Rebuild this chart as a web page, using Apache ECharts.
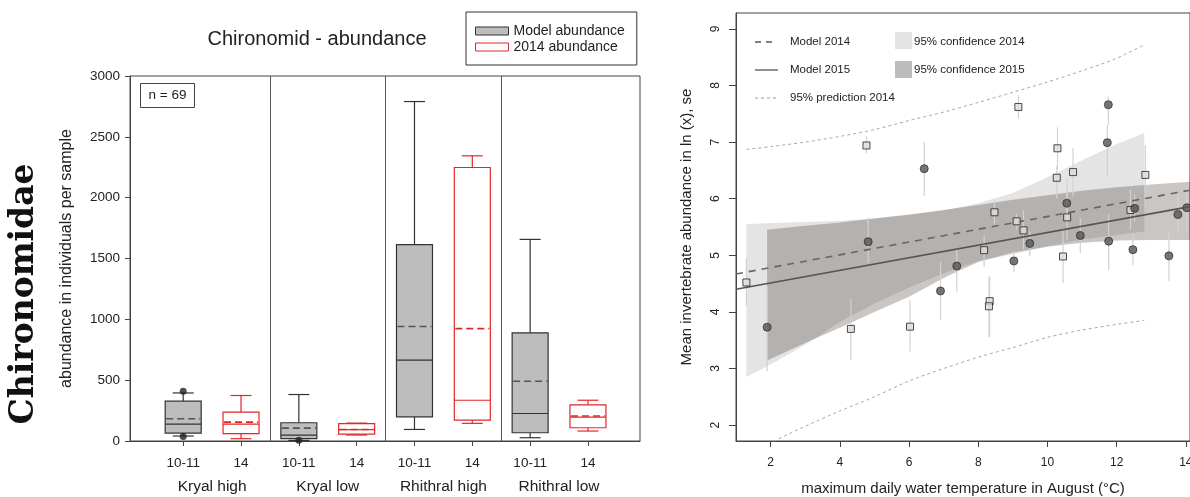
<!DOCTYPE html>
<html><head><meta charset="utf-8">
<script src="https://cdn.jsdelivr.net/npm/echarts@6/dist/echarts.min.js"></script>
<style>html,body{margin:0;padding:0;background:#fff}#c{width:1190px;height:497px}</style>
</head><body><div id="c"></div>
<script>
// ---------- Left chart data ----------
const groupLabels = ['Kryal high', 'Kryal low', 'Rhithral high', 'Rhithral low'];
const groupPositions = [0.5, 2.5, 4.5, 6.5];
const yearLabels = ['10-11', '14', '10-11', '14', '10-11', '14', '10-11', '14'];
const boxPositions = [0, 1, 2, 3, 4, 5, 6, 7];
const modelPositions = [0, 2, 4, 6];
const obsPositions = [1, 3, 5, 7];
// [whiskerLow, q1, median, mean, q3, whiskerHigh]
const modelBoxes = [
  [41, 65, 139, 183, 327, 395],
  [5, 19, 49, 106, 150, 382],
  [95, 199, 665, 941, 1614, 2790],
  [27, 68, 226, 491, 889, 1657]
];
const obsBoxes = [
  [19, 60, 139, 155, 237, 374],
  [49, 57, 93, 95, 142, 147],
  [145, 172, 335, 924, 2248, 2344],
  [82, 109, 196, 205, 297, 335]
];
const modelOutliers = [[0, 409], [0, 38], [2, 6]];
const leftSeparators = [1.5, 3.5, 5.5];

// ---------- Right chart data ----------
const xTicksRight = [2, 4, 6, 8, 10, 12, 14];
const yTicksRight = [2, 3, 4, 5, 6, 7, 8, 9];
// [x, y, errLow, errHigh]
const points2014 = [
  [1.3, 4.52, 4.12, 4.95], [4.77, 6.94, 6.8, 7.1], [4.32, 3.70, 3.15, 4.24],
  [6.03, 3.74, 3.3, 4.21], [8.17, 5.09, 4.8, 5.36], [8.33, 4.19, 3.56, 4.62],
  [8.31, 4.10, 3.56, 4.62], [8.47, 5.76, 5.55, 5.99], [9.11, 5.60, 5.45, 5.74],
  [9.31, 5.44, 5.1, 5.8], [9.16, 7.62, 7.42, 7.83], [10.29, 6.89, 6.51, 7.26],
  [10.27, 6.37, 6.0, 6.57], [10.74, 6.47, 6.04, 6.89], [10.57, 5.67, 5.27, 6.36],
  [10.45, 4.98, 4.51, 5.45], [12.4, 5.80, 5.45, 6.16], [12.83, 6.42, 5.86, 6.95]
];
const points2015 = [
  [1.9, 3.73, 2.95, 4.45], [4.82, 5.24, 4.86, 5.67], [6.44, 6.53, 6.05, 7.0],
  [6.91, 4.37, 3.86, 4.89], [7.38, 4.81, 4.36, 5.1], [9.03, 4.90, 4.71, 5.07],
  [9.49, 5.21, 4.98, 5.42], [10.56, 5.92, 5.6, 6.15], [10.95, 5.35, 5.04, 5.66],
  [11.77, 5.25, 4.74, 5.74], [11.73, 6.99, 6.39, 7.3], [11.76, 7.66, 7.3, 7.8],
  [12.47, 5.10, 4.83, 5.36], [12.52, 5.83, 5.6, 6.07], [13.51, 4.99, 4.54, 5.42],
  [13.77, 5.72, 5.39, 6.07], [14.03, 5.84, 5.42, 6.24]
];
const model2014 = [[1, 4.67], [14.12, 6.15]];
const model2015 = [[1, 4.40], [14.12, 5.86]];
const conf2014X = [1.3, 2, 3, 4, 5, 6, 7, 8, 9, 10, 11, 12, 12.8];
const conf2014Upper = [5.55, 5.57, 5.59, 5.61, 5.65, 5.71, 5.79, 5.92, 6.1, 6.38, 6.68, 6.96, 7.16];
const conf2014Lower = [2.85, 3.07, 3.42, 3.82, 4.15, 4.43, 4.68, 4.9, 5.02, 5.16, 5.28, 5.36, 5.42];
const conf2015X = [1.9, 3, 4, 5, 6, 7, 8, 9, 10, 11, 12, 13, 14.12];
const conf2015Upper = [5.45, 5.52, 5.58, 5.65, 5.72, 5.8, 5.89, 5.98, 6.06, 6.14, 6.2, 6.25, 6.3];
const conf2015Lower = [3.14, 3.45, 3.72, 4.0, 4.27, 4.6, 4.88, 5.05, 5.15, 5.22, 5.26, 5.27, 5.27];
const predX = [1.3, 2, 3, 4, 5, 6, 7, 8, 9, 10, 11, 12, 12.8];
const predUpper = [6.87, 6.92, 7.0, 7.1, 7.22, 7.38, 7.53, 7.7, 7.88, 8.06, 8.26, 8.48, 8.72];
const predLower = [1.48, 1.69, 1.98, 2.25, 2.5, 2.78, 3.0, 3.2, 3.37, 3.55, 3.68, 3.78, 3.85];

// ---------- Build ----------
const FONT = 'Liberation Sans, Arial, sans-serif';
const RED = '#e3262a';

function boxSeries(name, boxes, positions, stroke, fill, meanColor) {
  return {
    type: 'custom', name: name, xAxisIndex: 0, yAxisIndex: 0,
    itemStyle: { color: fill, borderColor: stroke },
    data: boxes.map((b, i) => [positions[i]].concat(b)),
    encode: { x: 0, y: [1, 2, 3, 4, 5, 6] },
    renderItem: function (params, api) {
      const x = api.value(0);
      const py = v => api.coord([x, v])[1];
      const cx = api.coord([x, 0])[0];
      const yl = py(api.value(1)), q1 = py(api.value(2)), md = py(api.value(3)),
            mn = py(api.value(4)), q3 = py(api.value(5)), yh = py(api.value(6));
      const hw = 18, cw = 10.5;
      const ls = { stroke: stroke, lineWidth: 1.2, fill: null };
      return { type: 'group', children: [
        { type: 'line', shape: { x1: cx, y1: q3, x2: cx, y2: yh }, style: ls },
        { type: 'line', shape: { x1: cx - cw, y1: yh, x2: cx + cw, y2: yh }, style: ls },
        { type: 'line', shape: { x1: cx, y1: q1, x2: cx, y2: yl }, style: ls },
        { type: 'line', shape: { x1: cx - cw, y1: yl, x2: cx + cw, y2: yl }, style: ls },
        { type: 'rect', shape: { x: cx - hw, y: q3, width: 2 * hw, height: q1 - q3 }, style: { fill: fill, stroke: stroke, lineWidth: 1.2 } },
        { type: 'line', shape: { x1: cx - hw, y1: md, x2: cx + hw, y2: md }, style: ls },
        { type: 'line', shape: { x1: cx - hw + 1, y1: mn, x2: cx + hw - 1, y2: mn }, style: { stroke: meanColor, lineWidth: 1.6, lineDash: [7, 4] } }
      ]};
    }
  };
}

function bandSeries(name, xs, lo, hi, fill, z) {
  return {
    type: 'custom', name: name, xAxisIndex: 1, yAxisIndex: 1, z: z, silent: true,
    data: [[xs[0], lo[0]]],
    renderItem: function (params, api) {
      const pts = [];
      for (let i = 0; i < xs.length; i++) pts.push(api.coord([xs[i], hi[i]]));
      for (let i = xs.length - 1; i >= 0; i--) pts.push(api.coord([xs[i], lo[i]]));
      return { type: 'polygon', shape: { points: pts }, style: { fill: fill } };
    }
  };
}

function errSeries(name, pts) {
  return {
    type: 'custom', name: name, xAxisIndex: 1, yAxisIndex: 1, z: 4, silent: true,
    data: pts.map(p => [p[0], p[2], p[3]]),
    renderItem: function (params, api) {
      const a = api.coord([api.value(0), api.value(1)]);
      const b = api.coord([api.value(0), api.value(2)]);
      return { type: 'line', shape: { x1: a[0], y1: a[1], x2: b[0], y2: b[1] }, style: { stroke: '#d2d2d2', lineWidth: 1.2 } };
    }
  };
}

const option = {
  animation: false,
  backgroundColor: '#fff',
  textStyle: { fontFamily: FONT },
  title: {
    text: 'Chironomid - abundance', left: 312, top: 24, textAlign: 'center',
    textStyle: { fontFamily: FONT, fontSize: 20, fontWeight: 'normal', color: '#222' }
  },
  legend: {
    left: 466, top: 12, orient: 'vertical', itemGap: 0,
    itemWidth: 33, itemHeight: 8,
    padding: [11, 12, 10, 9],
    borderColor: '#333', borderWidth: 1,
    textStyle: { fontFamily: FONT, fontSize: 14, color: '#222', lineHeight: 16 },
    data: [
      { name: 'Model abundance', icon: 'rect', itemStyle: { color: '#bdbdbd', borderColor: '#333', borderWidth: 1 } },
      { name: '2014 abundance', icon: 'rect', itemStyle: { color: '#fff', borderColor: RED, borderWidth: 1 } }
    ]
  },
  grid: [
    { left: 130, top: 76, width: 510, height: 365, show: true, borderColor: '#444', borderWidth: 1, outerBoundsMode: 'none', containLabel: false },
    { left: 736, top: 13, width: 454, height: 428, show: true, borderColor: '#444', borderWidth: 1, outerBoundsMode: 'none', containLabel: false }
  ],
  xAxis: [
    { type: 'value', gridIndex: 0, min: -0.92, max: 7.9,
      axisLine: { show: true, onZero: false, lineStyle: { color: '#444' } },
      axisTick: { show: true, customValues: boxPositions, length: 5, lineStyle: { color: '#444' } },
      axisLabel: { customValues: boxPositions, formatter: v => yearLabels[Math.round(v)], fontSize: 13.5, color: '#222', margin: 15, fontFamily: FONT },
      splitLine: { show: false } },
    { type: 'value', gridIndex: 1, min: 1, max: 14.12,
      axisLine: { show: true, onZero: false, lineStyle: { color: '#444' } },
      axisTick: { show: true, customValues: xTicksRight, length: 6, lineStyle: { color: '#444' } },
      axisLabel: { customValues: xTicksRight, fontSize: 12, color: '#222', margin: 16, fontFamily: FONT },
      splitLine: { show: false },
      name: 'maximum daily water temperature in August (°C)', nameLocation: 'middle', nameGap: 40,
      nameTextStyle: { fontSize: 15, color: '#222', fontFamily: FONT } },
    { type: 'value', gridIndex: 0, min: -0.92, max: 7.9, position: 'bottom', offset: 23,
      axisLine: { show: false, onZero: false }, axisTick: { show: false }, splitLine: { show: false },
      axisLabel: { customValues: groupPositions, formatter: v => groupLabels[Math.round((v - 0.5) / 2)], fontSize: 15.5, color: '#222', margin: 15, fontFamily: FONT } }
  ],
  yAxis: [
    { type: 'value', gridIndex: 0, min: 0, max: 3000, interval: 500,
      axisLine: { show: true, onZero: false, lineStyle: { color: '#444' } },
      axisTick: { show: true, length: 5, lineStyle: { color: '#444' } },
      axisLabel: { fontSize: 13.5, color: '#222', margin: 10, fontFamily: FONT, formatter: v => String(v) },
      splitLine: { show: false },
      name: 'abundance in individuals per sample', nameLocation: 'middle', nameGap: 55, nameRotate: 90,
      nameTextStyle: { fontSize: 16, color: '#222', fontFamily: FONT } },
    { type: 'value', gridIndex: 1, min: 1.72, max: 9.28,
      axisLine: { show: true, onZero: false, lineStyle: { color: '#444' } },
      axisTick: { show: true, customValues: yTicksRight, length: 7, lineStyle: { color: '#444' } },
      axisLabel: { customValues: yTicksRight, rotate: 90, fontSize: 12, color: '#222', margin: 14, fontFamily: FONT },
      splitLine: { show: false },
      name: 'Mean invertebrate abundance in ln (x), se', nameLocation: 'middle', nameGap: 42, nameRotate: 90,
      nameTextStyle: { fontSize: 15, color: '#222', fontFamily: FONT } }
  ],
  series: [
    Object.assign(boxSeries('Model abundance', modelBoxes, modelPositions, '#333', '#bdbdbd', '#555'), {
      markLine: { silent: true, symbol: 'none', label: { show: false },
        lineStyle: { color: '#555', type: 'solid', width: 1 },
        data: leftSeparators.map(v => ({ xAxis: v })) }
    }),
    boxSeries('2014 abundance', obsBoxes, obsPositions, RED, '#fff', RED),
    { type: 'scatter', name: 'outliers', xAxisIndex: 0, yAxisIndex: 0, data: modelOutliers,
      symbol: 'circle', symbolSize: 7, itemStyle: { color: '#222' }, silent: true, z: 5 },

    bandSeries('conf2014', conf2014X, conf2014Lower, conf2014Upper, '#e4e4e4', 1),
    bandSeries('conf2015', conf2015X, conf2015Lower, conf2015Upper, 'rgba(30,17,9,0.24)', 2),
    { type: 'line', name: 'pred upper', xAxisIndex: 1, yAxisIndex: 1, data: predX.map((x, i) => [x, predUpper[i]]),
      symbol: 'none', smooth: 0.3, lineStyle: { color: '#a8a8a8', width: 1, type: [3, 3] }, silent: true, z: 3 },
    { type: 'line', name: 'pred lower', xAxisIndex: 1, yAxisIndex: 1, data: predX.map((x, i) => [x, predLower[i]]),
      symbol: 'none', smooth: 0.3, clip: true, lineStyle: { color: '#a8a8a8', width: 1, type: [3, 3] }, silent: true, z: 3 },
    errSeries('err2014', points2014),
    errSeries('err2015', points2015),
    { type: 'line', name: 'Model 2014', xAxisIndex: 1, yAxisIndex: 1, data: model2014, symbol: 'none',
      lineStyle: { color: '#666', width: 1.6, type: [7, 6] }, silent: true, z: 5 },
    { type: 'line', name: 'Model 2015', xAxisIndex: 1, yAxisIndex: 1, data: model2015, symbol: 'none',
      lineStyle: { color: '#555', width: 1.6 }, silent: true, z: 5 },
    { type: 'scatter', name: 'pts2014', xAxisIndex: 1, yAxisIndex: 1, data: points2014.map(p => [p[0], p[1]]),
      symbol: 'rect', symbolSize: 7, itemStyle: { color: '#dcdcdc', borderColor: '#222', borderWidth: 1 }, silent: true, z: 6 },
    { type: 'scatter', name: 'pts2015', xAxisIndex: 1, yAxisIndex: 1, data: points2015.map(p => [p[0], p[1]]),
      symbol: 'circle', symbolSize: 8, itemStyle: { color: '#555', borderColor: '#333', borderWidth: 1 }, silent: true, z: 6 }
  ],
  graphic: [
    { type: 'text', x: 24, y: 294, rotation: Math.PI / 2,
      style: { text: 'Chironomidae', font: 'bold 33px "DejaVu Serif", serif', fill: '#111', align: 'center', verticalAlign: 'middle' } },
    { type: 'group', left: 140, top: 83, children: [
      { type: 'rect', shape: { x: 0, y: 0, width: 54, height: 24 }, style: { fill: '#fff', stroke: '#444', lineWidth: 1 } },
      { type: 'text', x: 27, y: 12, style: { text: 'n = 69', font: '13.5px ' + FONT, fill: '#222', align: 'center', verticalAlign: 'middle' } }
    ]},
    // right legend
    { type: 'line', shape: { x1: 755, y1: 42, x2: 777, y2: 42 }, style: { stroke: '#555', lineWidth: 1.3, lineDash: [6, 5] } },
    { type: 'line', shape: { x1: 755, y1: 70, x2: 778, y2: 70 }, style: { stroke: '#555', lineWidth: 1.3 } },
    { type: 'line', shape: { x1: 755, y1: 98, x2: 777, y2: 98 }, style: { stroke: '#999', lineWidth: 1, lineDash: [3, 3] } },
    { type: 'text', x: 790, y: 42, style: { text: 'Model 2014', font: '11.5px ' + FONT, fill: '#222', verticalAlign: 'middle' } },
    { type: 'text', x: 790, y: 70, style: { text: 'Model 2015', font: '11.5px ' + FONT, fill: '#222', verticalAlign: 'middle' } },
    { type: 'text', x: 790, y: 98, style: { text: '95% prediction 2014', font: '11.5px ' + FONT, fill: '#222', verticalAlign: 'middle' } },
    { type: 'rect', shape: { x: 895, y: 32, width: 17, height: 17 }, style: { fill: '#e3e3e3' } },
    { type: 'rect', shape: { x: 895, y: 61, width: 17, height: 17 }, style: { fill: '#bcbcbc' } },
    { type: 'text', x: 914, y: 42, style: { text: '95% confidence 2014', font: '11.5px ' + FONT, fill: '#222', verticalAlign: 'middle' } },
    { type: 'text', x: 914, y: 70, style: { text: '95% confidence 2015', font: '11.5px ' + FONT, fill: '#222', verticalAlign: 'middle' } }
  ]
};
const chart = echarts.init(document.getElementById('c'));
chart.setOption(option);
</script>
</body></html>
